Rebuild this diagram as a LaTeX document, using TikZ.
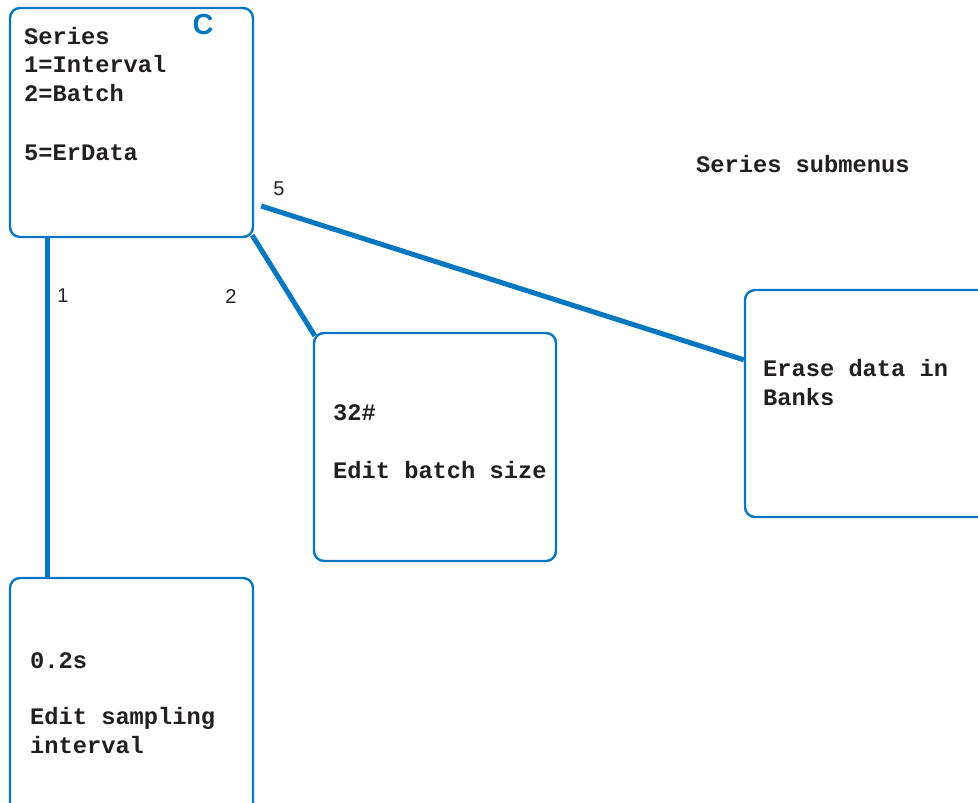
\documentclass[tikz,border=0pt]{standalone}
\usepackage{fontspec}
\setmainfont{Liberation Sans}
\newfontfamily\monofont{Liberation Mono}
\usetikzlibrary{calc}
\definecolor{cblue}{RGB}{0,119,192}
\definecolor{ctext}{RGB}{35,31,32}
\tikzset{
  box/.style={draw=cblue, line width=2.4pt, rounded corners=10pt, inner sep=0pt},
  conn/.style={draw=cblue, line width=5pt},
  mtext/.style={anchor=base west, inner sep=0pt, text=ctext, font=\monofont\bfseries\fontsize{23.7}{29.3}\selectfont},
  lbl/.style={anchor=center, inner sep=0pt, text=ctext, font=\fontsize{20}{22}\selectfont}
}
\begin{document}
\begin{tikzpicture}[x=1pt,y=-1pt]
\useasboundingbox (0,0) rectangle (978,803);
\clip (0,0) rectangle (978,803);
% boxes
\node[box, minimum width=243pt, minimum height=229pt] (A) at (131.5,122.5) {};
\node[box, minimum width=242pt, minimum height=228pt] (B) at (435,447) {};
\node[box, minimum width=260pt, minimum height=227pt] (C) at (875,403.5) {};
\node[box, minimum width=243pt, minimum height=240pt] (D) at (131.5,698) {};
% texts
\node[mtext] (tA1) at (24,44) {Series};
\node[mtext] (tA2) at (24,72) {1=Interval};
\node[mtext] (tA3) at (24,101) {2=Batch};
\node[mtext] (tA4) at (24,160) {5=ErData};
\node[anchor=center, inner sep=0pt, text=cblue, font=\bfseries\fontsize{29}{30}\selectfont] (cC) at (203,25) {C};
\node[mtext] (tB1) at (333,420) {32\#};
\node[mtext] (tB2) at (333,478) {Edit batch size};
\node[mtext] (tC1) at (763,376) {Erase data in};
\node[mtext] (tC2) at (763,405) {Banks};
\node[mtext] (tD1) at (30,668) {0.2s};
\node[mtext] (tD2) at (30,724) {Edit sampling};
\node[mtext] (tD3) at (30,753) {interval};
\node[mtext] (title) at (696,172) {Series submenus};
% connector labels
\node[lbl] (l1) at (63,296) {1};
\node[lbl] (l2) at (231,297) {2};
\node[lbl] (l5) at (279,189) {5};
% connectors
\coordinate (a1) at ($(A.south west)+(38.5,0)$);
\draw[conn] (a1) -- (a1 |- D.north);
\draw[conn] ($(A.south east)+(-2,-3)$) -- ($(B.north west)+(2,4)$);
\coordinate (a5) at ($(A.east)+(7,83.5)$);
\coordinate (c5) at ($(C.north west)+(0,71)$);
\draw[conn] (a5) -- (c5);
\end{tikzpicture}
\end{document}
